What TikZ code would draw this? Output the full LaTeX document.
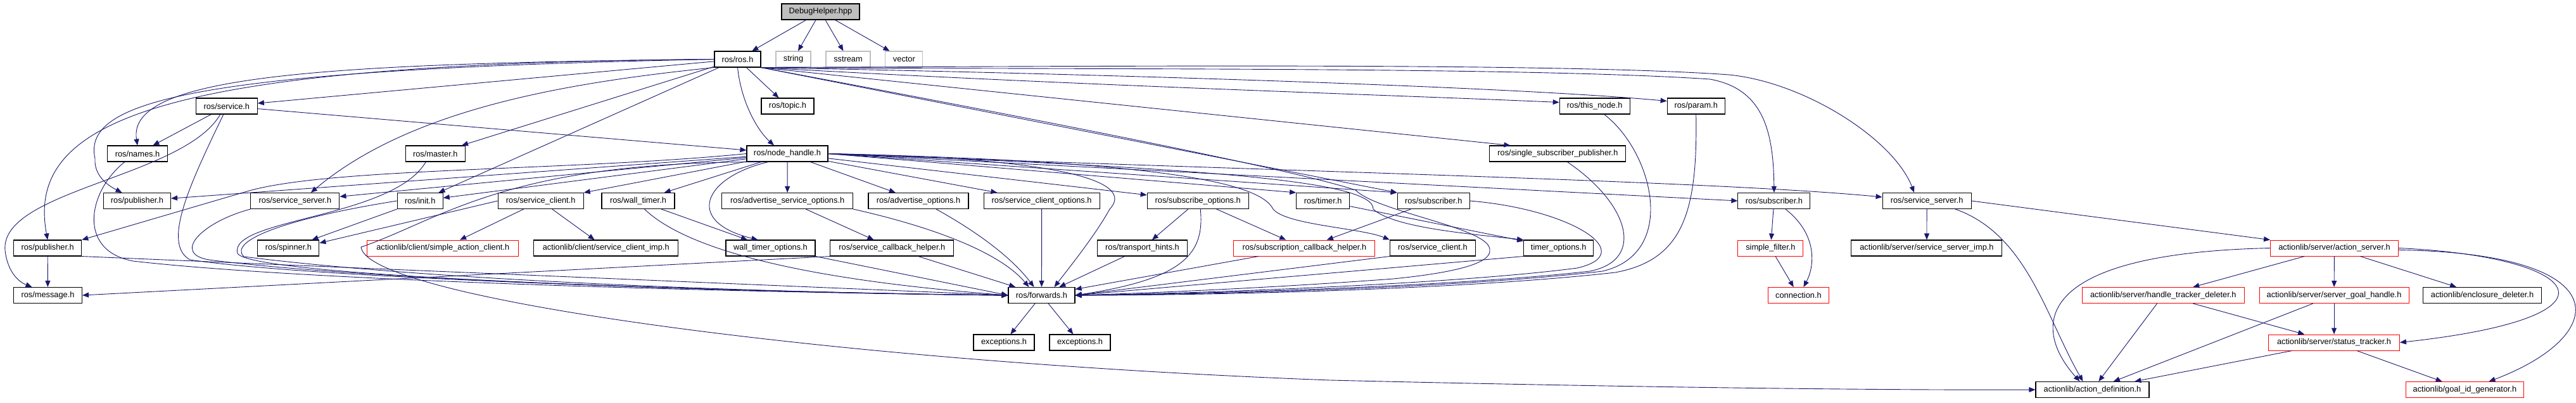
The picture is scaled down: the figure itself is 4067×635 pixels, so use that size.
\documentclass[tikz,border=0pt]{standalone}
\usepackage{fontspec}
\setmainfont{Liberation Sans}
\usetikzlibrary{arrows.meta}
\definecolor{edgeblue}{HTML}{191970}

\begin{document}
\begin{tikzpicture}[x=1pt,y=-1pt,>={Triangle[length=10pt,width=8pt]},
  hdr/.style={draw=black,line width=1.1pt,minimum height=25pt,inner sep=0pt,font=\fontsize{12.8pt}{15pt}\selectfont},
  syshdr/.style={hdr,draw=gray!50},
  redhdr/.style={hdr,draw=red,line width=0.9pt},
  inc/.style={->,draw=edgeblue,line width=0.9pt}]
\useasboundingbox (0,0) rectangle (4067,635);
\node[hdr,fill=gray!50,minimum width=123pt] (dh) at (1295.5,18.5) {DebugHelper.hpp};
\node[hdr,minimum width=73pt] (ros) at (1164.5,93.5) {ros/ros.h};
\node[syshdr,minimum width=55pt] (str) at (1252.5,93.5) {string};
\node[syshdr,minimum width=70pt] (sst) at (1339,93.5) {sstream};
\node[syshdr,minimum width=59pt] (vec) at (1427.4,93.5) {vector};
\node[hdr,minimum width=97pt] (srv) at (357.8,167.5) {ros/service.h};
\node[hdr,minimum width=83pt] (topic) at (1243.5,167.5) {ros/topic.h};
\node[hdr,minimum width=111pt] (thn) at (2517.7,167.5) {ros/this\_node.h};
\node[hdr,minimum width=91pt] (param) at (2677.7,167.5) {ros/param.h};
\node[hdr,minimum width=95pt] (names) at (217,242.5) {ros/names.h};
\node[hdr,minimum width=94pt] (master) at (687.3,242.5) {ros/master.h};
\node[hdr,minimum width=128pt] (nh) at (1243,242.5) {ros/node\_handle.h};
\node[hdr,minimum width=215pt] (ssp) at (2459.4,242.5) {ros/single\_subscriber\_publisher.h};
\node[hdr,minimum width=106pt] (pubA) at (216.5,317) {ros/publisher.h};
\node[hdr,minimum width=140pt] (ssvA) at (465.9,317) {ros/service\_server.h};
\node[hdr,minimum width=72pt] (init) at (663.2,317) {ros/init.h};
\node[hdr,minimum width=135pt] (sclA) at (853.7,317) {ros/service\_client.h};
\node[hdr,minimum width=115pt] (wt) at (1007.5,317) {ros/wall\_timer.h};
\node[hdr,minimum width=207pt] (aso) at (1243.2,317) {ros/advertise\_service\_options.h};
\node[hdr,minimum width=158pt] (ao) at (1450,317) {ros/advertise\_options.h};
\node[hdr,minimum width=183pt] (sco) at (1644.6,317) {ros/service\_client\_options.h};
\node[hdr,minimum width=160pt] (so) at (1891.2,317) {ros/subscribe\_options.h};
\node[hdr,minimum width=84pt] (timer) at (2088.7,317) {ros/timer.h};
\node[hdr,minimum width=114pt] (subA) at (2263.2,317) {ros/subscriber.h};
\node[hdr,minimum width=114pt] (subB) at (2800.9,317) {ros/subscriber.h};
\node[hdr,minimum width=140pt] (ssvB) at (3042.1,317) {ros/service\_server.h};
\node[hdr,minimum width=107pt] (pubB) at (75.2,391.5) {ros/publisher.h};
\node[hdr,minimum width=97pt] (spin) at (455.4,391.5) {ros/spinner.h};
\node[redhdr,minimum width=239pt] (sac) at (699.3,391.5) {actionlib/client/simple\_action\_client.h};
\node[hdr,minimum width=228pt] (sci) at (956.7,391.5) {actionlib/client/service\_client\_imp.h};
\node[hdr,minimum width=141pt] (wto) at (1216.5,391.5) {wall\_timer\_options.h};
\node[hdr,minimum width=195pt] (scbh) at (1408.4,391.5) {ros/service\_callback\_helper.h};
\node[hdr,minimum width=141.5pt] (th) at (1803.5,391.5) {ros/transport\_hints.h};
\node[redhdr,minimum width=223pt] (sucbh) at (2059.4,391.5) {ros/subscription\_callback\_helper.h};
\node[hdr,minimum width=135pt] (sclB) at (2261.9,391.5) {ros/service\_client.h};
\node[hdr,minimum width=110pt] (tmo) at (2460.7,391.5) {timer\_options.h};
\node[redhdr,minimum width=103pt] (sf) at (2795.4,391.5) {simple\_filter.h};
\node[hdr,minimum width=238pt] (ssi) at (3041.9,391.5) {actionlib/server/service\_server\_imp.h};
\node[redhdr,minimum width=202pt] (asrv) at (3685.5,391.5) {actionlib/server/action\_server.h};
\node[hdr,minimum width=108pt] (msg) at (75.5,466) {ros/message.h};
\node[hdr,minimum width=105pt] (fwd) at (1644.5,466) {ros/forwards.h};
\node[redhdr,minimum width=96pt] (conn) at (2839.4,466) {connection.h};
\node[redhdr,minimum width=256.5pt] (htd) at (3415.3,466) {actionlib/server/handle\_tracker\_deleter.h};
\node[redhdr,minimum width=236pt] (sgh) at (3685,466) {actionlib/server/server\_goal\_handle.h};
\node[hdr,minimum width=187pt] (encl) at (3919,466) {actionlib/enclosure\_deleter.h};
\node[hdr,minimum width=96pt] (exA) at (1585,540.5) {exceptions.h};
\node[hdr,minimum width=96pt] (exB) at (1705,540.5) {exceptions.h};
\node[redhdr,minimum width=207pt] (stt) at (3685,540.5) {actionlib/server/status\_tracker.h};
\node[hdr,minimum width=179pt] (adef) at (3303.5,615) {actionlib/action\_definition.h};
\node[redhdr,minimum width=186pt] (gid) at (3891.5,615) {actionlib/goal\_id\_generator.h};
\draw[inc] (dh) -- (ros);
\draw[inc] (dh) -- (str);
\draw[inc] (dh) -- (sst);
\draw[inc] (dh) -- (vec);
\draw[inc] (ros) -- (topic);
\draw[inc] (ros.south) .. controls (1170,160) and (1195,205) .. ([xshift=-21pt]nh.north);
\draw[inc] (ros) -- (srv);
\draw[inc] (ros.west) .. controls (500,100) and (200,120) .. (names.north);
\draw[inc] (ros.west) .. controls (300,110) and (130,160) .. (150,250) .. controls (148,280) and (175,295) .. ([xshift=-24pt]pubA.north);
\draw[inc] (ros.west) .. controls (250,100) and (40,190) .. (pubB.north);
\draw[inc] (ros) -- (master);
\draw[inc] (ros) -- (init);
\draw[inc] (ros.south west) .. controls (900,130) and (650,170) .. ([xshift=25pt]ssvA.north);
\draw[inc] (ros.south east) .. controls (1700,135) and (2200,150) .. ([yshift=6pt]thn.west);
\draw[inc] (ros.south east) .. controls (1800,118) and (2400,138) .. ([yshift=8pt]param.west);
\draw[inc] (ros.south east) -- ([xshift=-75pt]ssp.north);
\draw[inc] (ros.south east) .. controls (1700,110) and (2400,105) .. (2700,125) .. controls (2780,140) and (2800,200) .. (subB.north);
\draw[inc] (ros.south east) .. controls (1700,105) and (2450,98) .. (2730,118) .. controls (2850,130) and (2990,220) .. ([xshift=-20pt]ssvB.north);
\draw[inc] (ros.south east) -- (subA.north west);
\draw[inc] (ros.south east) .. controls (1700,200) and (2050,270) .. (2140,300) .. controls (2175,335) and (2355,360) .. (2352,395) .. controls (2354,415) and (2300,430) .. (2200,440) .. controls (2000,455) and (1800,463) .. (fwd.east);
\draw[inc] (nh) -- (pubA);
\draw[inc] (nh) -- (ssvA);
\draw[inc] (nh) -- (init);
\draw[inc] (nh.west) .. controls (900,270) and (520,264) .. (390,302) -- (pubB.north east);
\draw[inc] (nh) -- (sclA);
\draw[inc] (nh) -- (wt);
\draw[inc] (nh) -- (aso);
\draw[inc] ([xshift=-30pt]nh.south) .. controls (1110,280) and (1080,350) .. ([xshift=-20pt]wto.north);
\draw[inc] (nh) -- (ao);
\draw[inc] (nh) -- (sco);
\draw[inc] (nh) -- (so);
\draw[inc] (nh.east) -- (timer.north west);
\draw[inc] (nh.east) -- (subA.north west);
\draw[inc] (nh.east) -- (subB.west);
\draw[inc] (nh.east) .. controls (2000,270) and (2700,285) .. ([yshift=6pt]ssvB.west);
\draw[inc] (nh.east) .. controls (1850,255) and (1990,290) .. (2010,330) .. controls (2030,355) and (2150,360) .. (sclB.north west);
\draw[inc] (nh.east) .. controls (1900,265) and (2170,285) .. (2168,330) .. controls (2200,360) and (2330,370) .. (tmo.north west);
\draw[inc] (nh.east) .. controls (1700,250) and (1790,290) .. (1752,330) .. controls (1730,370) and (1690,420) .. ([xshift=20pt]fwd.north);
\draw[inc] ([xshift=-40pt]nh.south) .. controls (800,255) and (700,345) .. (570,390) .. controls (580,470) and (1300,570) .. (2100,600) .. controls (2600,612) and (3000,616) .. (adef.west);
\draw[inc] (srv) -- (names);
\draw[inc] (srv) -- (nh);
\draw[inc] ([xshift=-10pt]srv.south) .. controls (290,280) and (0,300) .. (8,395) .. controls (12,430) and (30,445) .. ([xshift=-25pt]msg.north);
\draw[inc] ([xshift=-5pt]srv.south) .. controls (300,290) and (255,385) .. (300,410) .. controls (500,440) and (1200,462) .. (fwd.west);
\draw[inc] ([xshift=-20pt]names.south) .. controls (140,300) and (120,395) .. (210,412) .. controls (500,445) and (1200,462) .. (fwd.west);
\draw[inc] ([xshift=-15pt]master.south) .. controls (620,345) and (360,345) .. (375,400) .. controls (400,440) and (1250,463) .. (fwd.west);
\draw[inc] (ssvA.south west) .. controls (320,350) and (270,400) .. (330,410) .. controls (600,445) and (1250,462) .. (fwd.west);
\draw[inc] (init.south west) -- ([xshift=-12pt]spin.north east);
\draw[inc] (init.west) .. controls (450,345) and (360,380) .. (385,405) .. controls (700,445) and (1250,463) .. (fwd.west);
\draw[inc] (sclA.west) -- ([yshift=8pt]spin.east);
\draw[inc] (sclA) -- (sac);
\draw[inc] (sclA) -- (sci);
\draw[inc] (pubB) -- (msg);
\draw[inc] (pubB.south east) -- (fwd.west);
\draw[inc] (wt) -- (wto);
\draw[inc] ([xshift=10pt]wt.south) .. controls (1080,390) and (1250,440) .. (fwd.west);
\draw[inc] (aso) -- (scbh);
\draw[inc] (aso.south east) .. controls (1480,360) and (1580,400) .. ([xshift=-20pt]fwd.north);
\draw[inc] ([xshift=28pt]ao.south) .. controls (1550,370) and (1600,410) .. ([xshift=-12pt]fwd.north);
\draw[inc] (sco) -- (fwd);
\draw[inc] (so) -- (th);
\draw[inc] (so) -- (sucbh);
\draw[inc] ([xshift=4pt]so.south) .. controls (1902,400) and (1870,440) .. (fwd.east);
\draw[inc] (th) -- (fwd);
\draw[inc] (sucbh) -- (fwd);
\draw[inc] (scbh) -- (fwd);
\draw[inc] (scbh.south west) -- (msg.east);
\draw[inc] (wto.south east) -- (fwd.west);
\draw[inc] (sclB.south west) -- (fwd.east);
\draw[inc] (tmo.south west) -- (fwd.east);
\draw[inc] (timer) -- (tmo);
\draw[inc] (subA) -- (sucbh);
\draw[inc] (subA.east) .. controls (2480,330) and (2590,400) .. (2490,423) .. controls (2300,448) and (1900,463) .. (fwd.east);
\draw[inc] ([xshift=15pt]ssp.south) .. controls (2570,320) and (2600,410) .. (2510,428) .. controls (2300,452) and (1900,464) .. (fwd.east);
\draw[inc] ([xshift=15pt]thn.south) .. controls (2610,240) and (2650,400) .. (2530,428) .. controls (2300,455) and (1900,465) .. (fwd.east);
\draw[inc] (param.south) .. controls (2680,330) and (2660,410) .. (2550,430) .. controls (2300,458) and (1900,466) .. (fwd.east);
\draw[inc] (subB) -- (sf);
\draw[inc] ([xshift=18pt]subB.south) .. controls (2870,370) and (2865,420) .. ([xshift=8pt]conn.north);
\draw[inc] (sf) -- (conn);
\draw[inc] (ssvB) -- (ssi);
\draw[inc] ([xshift=45pt]ssvB.south) .. controls (3200,370) and (3230,500) .. ([xshift=-15pt]adef.north);
\draw[inc] (ssvB.east) -- (asrv.north west);
\draw[inc] (asrv) -- (htd);
\draw[inc] (asrv) -- (sgh);
\draw[inc] (asrv) -- (encl);
\draw[inc] (asrv.east) .. controls (4080,405) and (4160,500) .. (stt.east);
\draw[inc] ([yshift=-3pt]asrv.east) .. controls (4140,400) and (4120,530) .. ([xshift=38pt]gid.north);
\draw[inc] (asrv.west) .. controls (3200,400) and (3210,520) .. ([xshift=-20pt]adef.north);
\draw[inc] (htd) -- (adef);
\draw[inc] (htd) -- (stt);
\draw[inc] (sgh) -- (stt);
\draw[inc] (sgh) -- (adef);
\draw[inc] (stt) -- (adef);
\draw[inc] (stt) -- (gid);
\draw[inc] (fwd) -- (exA);
\draw[inc] (fwd) -- (exB);
\end{tikzpicture}
\end{document}
